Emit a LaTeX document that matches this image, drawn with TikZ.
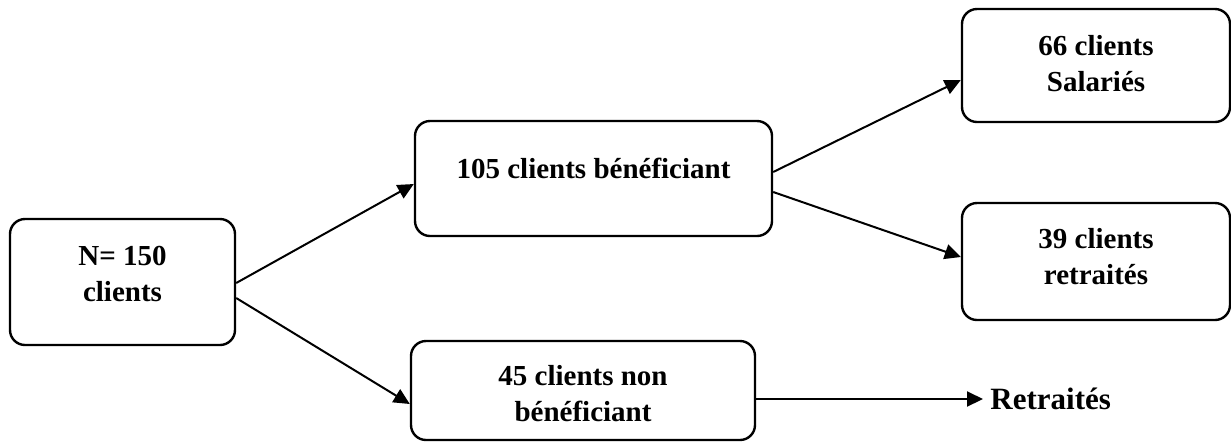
\documentclass[tikz,border=0pt]{standalone}
\usepackage{fontspec}
\setmainfont{Liberation Serif}
\usetikzlibrary{arrows.meta}

\newcommand{\lift}[1]{\rule[-#1]{0pt}{0pt}}

\begin{document}
\begin{tikzpicture}[x=0.5pt,y=-0.5pt,
        box/.style={draw, line width=1.2pt, rounded corners=7.5pt, align=center,
            font=\fontsize{14.5pt}{18pt}\selectfont\bfseries},
        arr/.style={line width=1pt, -{Triangle[length=8pt,width=7.5pt]}}]
                        \useasboundingbox (0,0) rectangle (1231,441);

                        \node[box, minimum width=112.5pt, minimum height=63pt] (total) at (122.5,282) {N= 150\\clients\lift{8.5pt}};
                        \node[box, minimum width=178.5pt, minimum height=57.5pt] (ben) at (593.5,178.5) {105 clients bénéficiant\lift{10.5pt}};
                        \node[box, minimum width=172pt, minimum height=49.5pt] (nonben) at (583,390.5) {\rule{0pt}{13.3pt}45 clients non\\bénéficiant};
                        \node[box, minimum width=134pt, minimum height=56.5pt] (sal) at (1096,65.5) {66 clients\\Salariés\lift{2pt}};
                        \node[box, minimum width=134pt, minimum height=58.5pt] (ret) at (1096,261.5) {39 clients\\retraités\lift{5pt}};
                        \node[anchor=west, inner sep=3.5pt, font=\fontsize{15.5pt}{18pt}\selectfont\bfseries] (retnon) at (983,399) {Retraités};

                        \draw[arr] ([yshift=-0.5pt]total.east) -- ([yshift=-2.75pt]ben.west);
                        \draw[arr] ([yshift=-8pt]total.east) -- ([yshift=-6.75pt]nonben.west);
                        \draw[arr] ([yshift=3.25pt]ben.east) -- ([yshift=-7.25pt]sal.west);
                        \draw[arr] ([yshift=-6.75pt]ben.east) -- ([yshift=2.25pt]ret.west);
                        \draw[arr] ([yshift=-4.25pt]nonben.east) -- (retnon.west);
                    \end{tikzpicture}
\end{document}
